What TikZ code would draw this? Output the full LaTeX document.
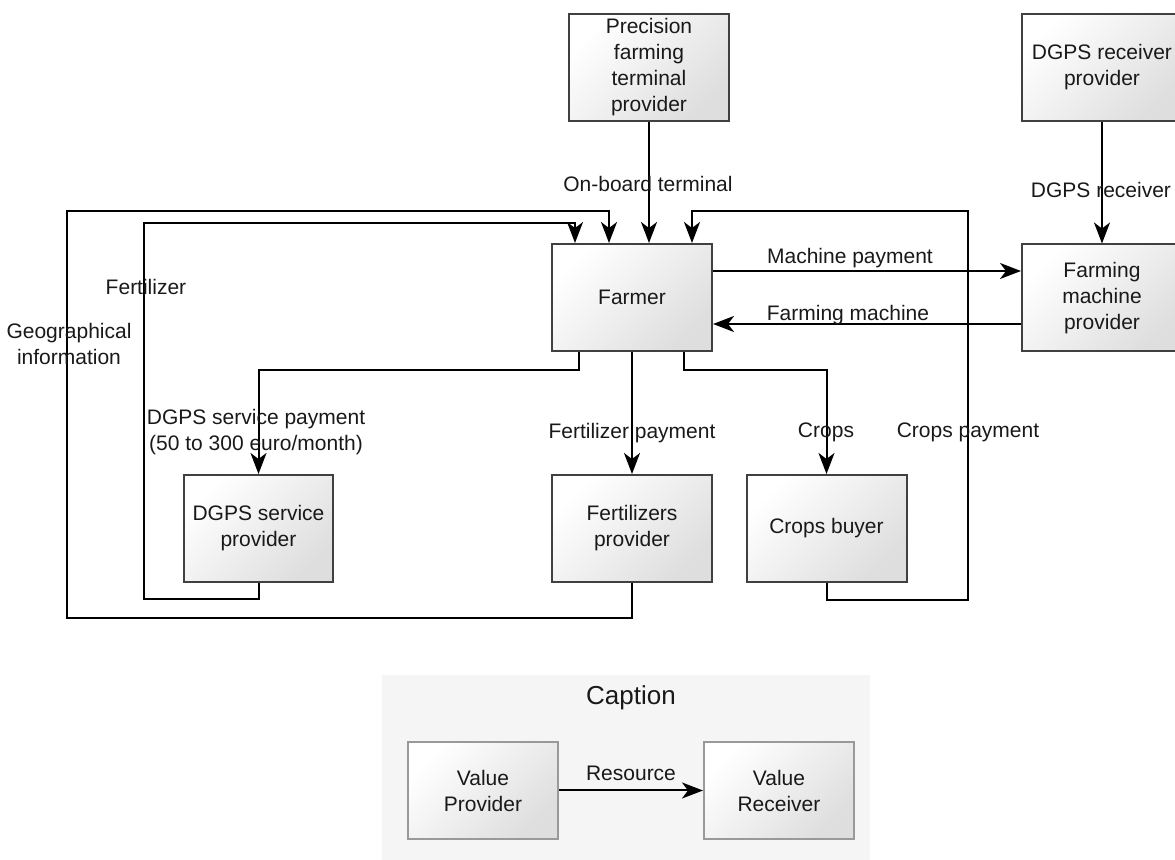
\documentclass[tikz,border=0pt]{standalone}
\usepackage{fontspec}
\setmainfont{Liberation Sans}
\usetikzlibrary{arrows.meta,calc}

\begin{document}
\begin{tikzpicture}[x=0.5pt, y=-0.5pt,
    every node/.style={font=\fontsize{10.5}{13}\selectfont, text=black!90, align=center},
    actor/.style={draw=black!75, line width=1pt, top color=white, bottom color=black!13,
      shading angle=45, minimum width=80pt, minimum height=53.5pt, inner sep=1pt},
    legendbox/.style={actor, draw=black!40, minimum width=75pt, minimum height=48.5pt},
    flow/.style={line width=1pt, -{Stealth[length=10.5pt, width=8pt, inset=3pt]}},
    wire/.style={line width=1pt}]
      \useasboundingbox (0,0) rectangle (1175,860);
      % actors
      \node[actor] (term) at (649,67.5) {Precision\\farming\\terminal\\provider};
      \node[actor] (dgpsrx) at (1102,67.5) {DGPS receiver\\provider};
      \node[actor] (farmer) at (632,297.5) {Farmer};
      \node[actor] (fmp) at (1102,298) {Farming\\machine\\provider};
      \node[actor, minimum width=74.5pt] (dgpssp) at (258.5,528.5) {DGPS service\\provider};
      \node[actor] (fert) at (632,528.5) {Fertilizers\\provider};
      \node[actor] (crops) at (826.5,528.5) {Crops buyer};
      % flows into the farmer
      \draw[flow] (term.south) -- (term.south |- farmer.north);
      \draw[flow] (dgpsrx.south) -- (fmp.north);
      \draw[flow] (dgpssp.south) -- ++(0,16) -| (144,223) -| ($(farmer.north)+(-57,0)$);
      \draw[flow] (fert.south) -- ++(0,35) -| (67,211) -| ($(farmer.north)+(-23,0)$);
      \draw[flow] (crops.south) -- ++(0,17) -| (968,211) -| ($(farmer.north)+(60,0)$);
      \coordinate (mp) at ($(farmer.east)+(0,-26.5)$);
      \coordinate (fm) at ($(farmer.east)+(0,26.5)$);
      \draw[flow] (mp) -- (mp -| fmp.west);
      \draw[flow] (fm -| fmp.west) -- (fm);
      % flows out of the farmer
      \draw[flow] ($(farmer.south)+(-53,0)$) -- ++(0,18) -| (dgpssp.north);
      \draw[flow] (farmer.south) -- (fert.north);
      \draw[flow] ($(farmer.south)+(52,0)$) -- ++(0,18) -| (crops.north);
      % labels
      \node (lterm) at (648,184) {On-board terminal};
      \node (lrx) at (1101,190) {DGPS receiver};
      \node (lmp) at (850,258) {Machine payment};
      \node (lfm) at (848,315) {Farming machine};
      \node (lfert) at (146,287) {Fertilizer};
      \node (lgeo) at (69,344) {Geographical\\information};
      \node (ldgps) at (256,432) {DGPS service payment\\(50 to 300 euro/month)};
      \node (lfpay) at (632,433) {Fertilizer payment};
      \node (lcrops) at (826,432) {Crops};
      \node (lcpay) at (968,432) {Crops payment};
      % caption
      \fill[black!4] (382,675) rectangle (870,862);
      \node[font=\fontsize{13}{15}\selectfont] (ctitle) at (631,698) {Caption};
      \node[legendbox] (vp) at (483,790.5) {Value\\Provider};
      \node[legendbox] (vr) at (779,790.5) {Value\\Receiver};
      \draw[flow] (vp) -- (vr);
      \node (lres) at (631,773) {Resource};
    \end{tikzpicture}
\end{document}
